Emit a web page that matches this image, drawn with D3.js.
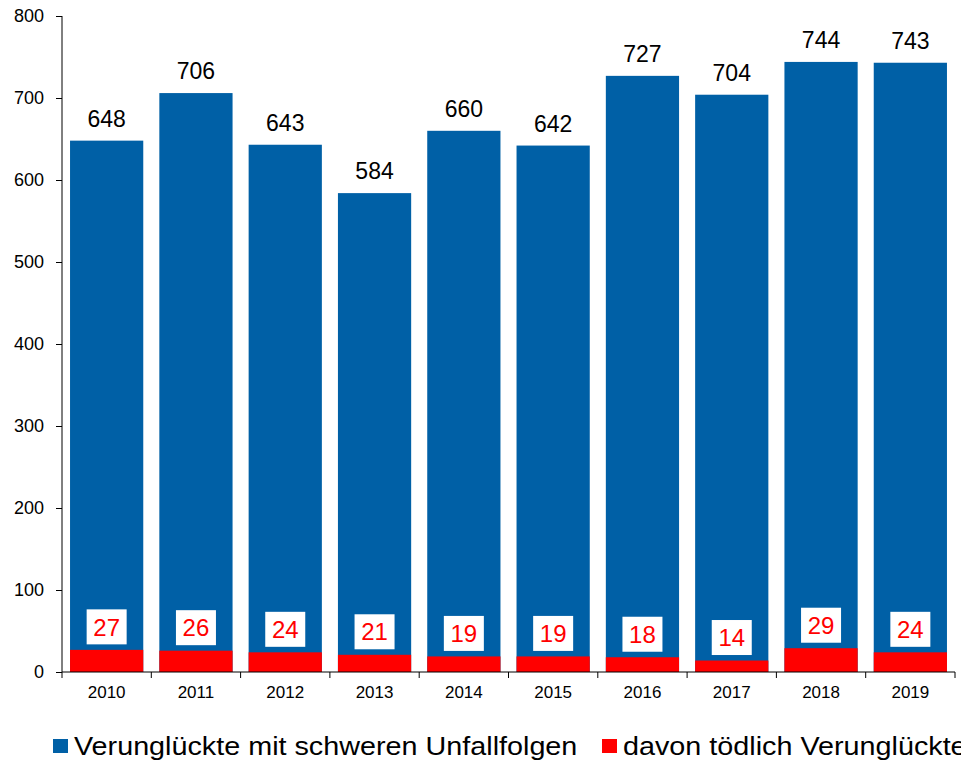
<!DOCTYPE html>
<html>
<head>
<meta charset="utf-8">
<script src="https://cdn.jsdelivr.net/npm/d3@7"></script>
<style>
  body { margin: 0; background: #fff; }
  svg { display: block; font-family: "Liberation Sans", Arial, sans-serif; }
</style>
</head>
<body>
<svg width="961" height="760"></svg>
<script>
const years = ["2010", "2011", "2012", "2013", "2014", "2015", "2016", "2017", "2018", "2019"];
const schwer = [648, 706, 643, 584, 660, 642, 727, 704, 744, 743];
const toedlich = [27, 26, 24, 21, 19, 19, 18, 14, 29, 24];
const yTicks = [0, 100, 200, 300, 400, 500, 600, 700, 800];
const seriesNames = ["Verunglückte mit schweren Unfallfolgen", "davon tödlich Verunglückte"];

const blue = "#0060a6";
const red = "#ff0000";

const svg = d3.select("svg");
const plotLeft = 62, plotRight = 955, plotTop = 16, plotBottom = 672;

const x = d3.scaleBand().domain(years).range([plotLeft, plotRight]).paddingInner(0.18).paddingOuter(0.09);
const y = d3.scaleLinear().domain([0, 800]).range([plotBottom, plotTop]);

const rows = years.map((yr, i) => ({ year: yr, total: schwer[i], dead: toedlich[i] }));

// blue bars
svg.append("g").selectAll("rect")
  .data(rows).join("rect")
  .attr("x", d => x(d.year))
  .attr("width", x.bandwidth())
  .attr("y", d => y(d.total))
  .attr("height", d => y(0) - y(d.total))
  .attr("fill", blue);

// red bars
svg.append("g").selectAll("rect")
  .data(rows).join("rect")
  .attr("x", d => x(d.year))
  .attr("width", x.bandwidth())
  .attr("y", d => y(d.dead))
  .attr("height", d => y(0) - y(d.dead))
  .attr("fill", red);

// total labels
svg.append("g").selectAll("text")
  .data(rows).join("text")
  .attr("x", d => x(d.year) + x.bandwidth() / 2)
  .attr("y", d => y(d.total) - 14)
  .attr("text-anchor", "middle")
  .attr("font-size", 23)
  .attr("fill", "#000")
  .text(d => d.total);

// red labels in white boxes
const lab = svg.append("g").selectAll("g")
  .data(rows).join("g")
  .attr("transform", d => `translate(${x(d.year) + x.bandwidth() / 2},${y(d.dead) - 23})`);
lab.append("rect")
  .attr("x", -20).attr("y", -17.5)
  .attr("width", 40).attr("height", 35)
  .attr("fill", "#fff");
lab.append("text")
  .attr("text-anchor", "middle")
  .attr("dy", "0.36em")
  .attr("font-size", 24)
  .attr("fill", red)
  .text(d => d.dead);

// y axis
const yAxis = svg.append("g")
  .attr("transform", `translate(${plotLeft},0)`)
  .call(d3.axisLeft(y).tickValues(yTicks).tickSize(6).tickPadding(12));
yAxis.selectAll("text").attr("font-size", 18).attr("fill", "#000").style("font-family", "Liberation Sans, Arial, sans-serif");
yAxis.selectAll("line, path").attr("stroke", "#000");
yAxis.select(".domain").attr("d", `M0,${plotTop}V${plotBottom}`);

// x axis
const xAxis = svg.append("g")
  .attr("transform", `translate(0,${plotBottom})`)
  .call(d3.axisBottom(x).tickSize(0).tickPadding(14));
xAxis.selectAll("text").attr("font-size", 17).attr("fill", "#000").style("font-family", "Liberation Sans, Arial, sans-serif");
xAxis.select(".domain").attr("stroke", "#000").attr("d", `M${plotLeft},0H${plotRight}`);
// category boundary ticks
xAxis.selectAll(".bound").data(years.concat([null])).join("line")
  .attr("class", "bound")
  .attr("x1", (d, i) => i < years.length ? x(d) - (x.step() - x.bandwidth()) / 2 : plotRight)
  .attr("x2", (d, i) => i < years.length ? x(d) - (x.step() - x.bandwidth()) / 2 : plotRight)
  .attr("y1", 0).attr("y2", 6)
  .attr("stroke", "#000");

// legend (text is a bit wider in the original)
const legend = svg.append("g").attr("transform", "translate(0,746)");
const legX = [53, 602];
const legColors = [blue, red];
seriesNames.forEach((name, i) => {
  legend.append("rect")
    .attr("x", legX[i]).attr("y", -7)
    .attr("width", 15).attr("height", 14)
    .attr("fill", legColors[i]);
  legend.append("text")
    .attr("transform", `translate(${legX[i] + 21},0) scale(1.15,1)`)
    .attr("dy", "0.36em")
    .attr("font-size", 25)
    .attr("fill", "#000")
    .text(name);
});
</script>
</body>
</html>
